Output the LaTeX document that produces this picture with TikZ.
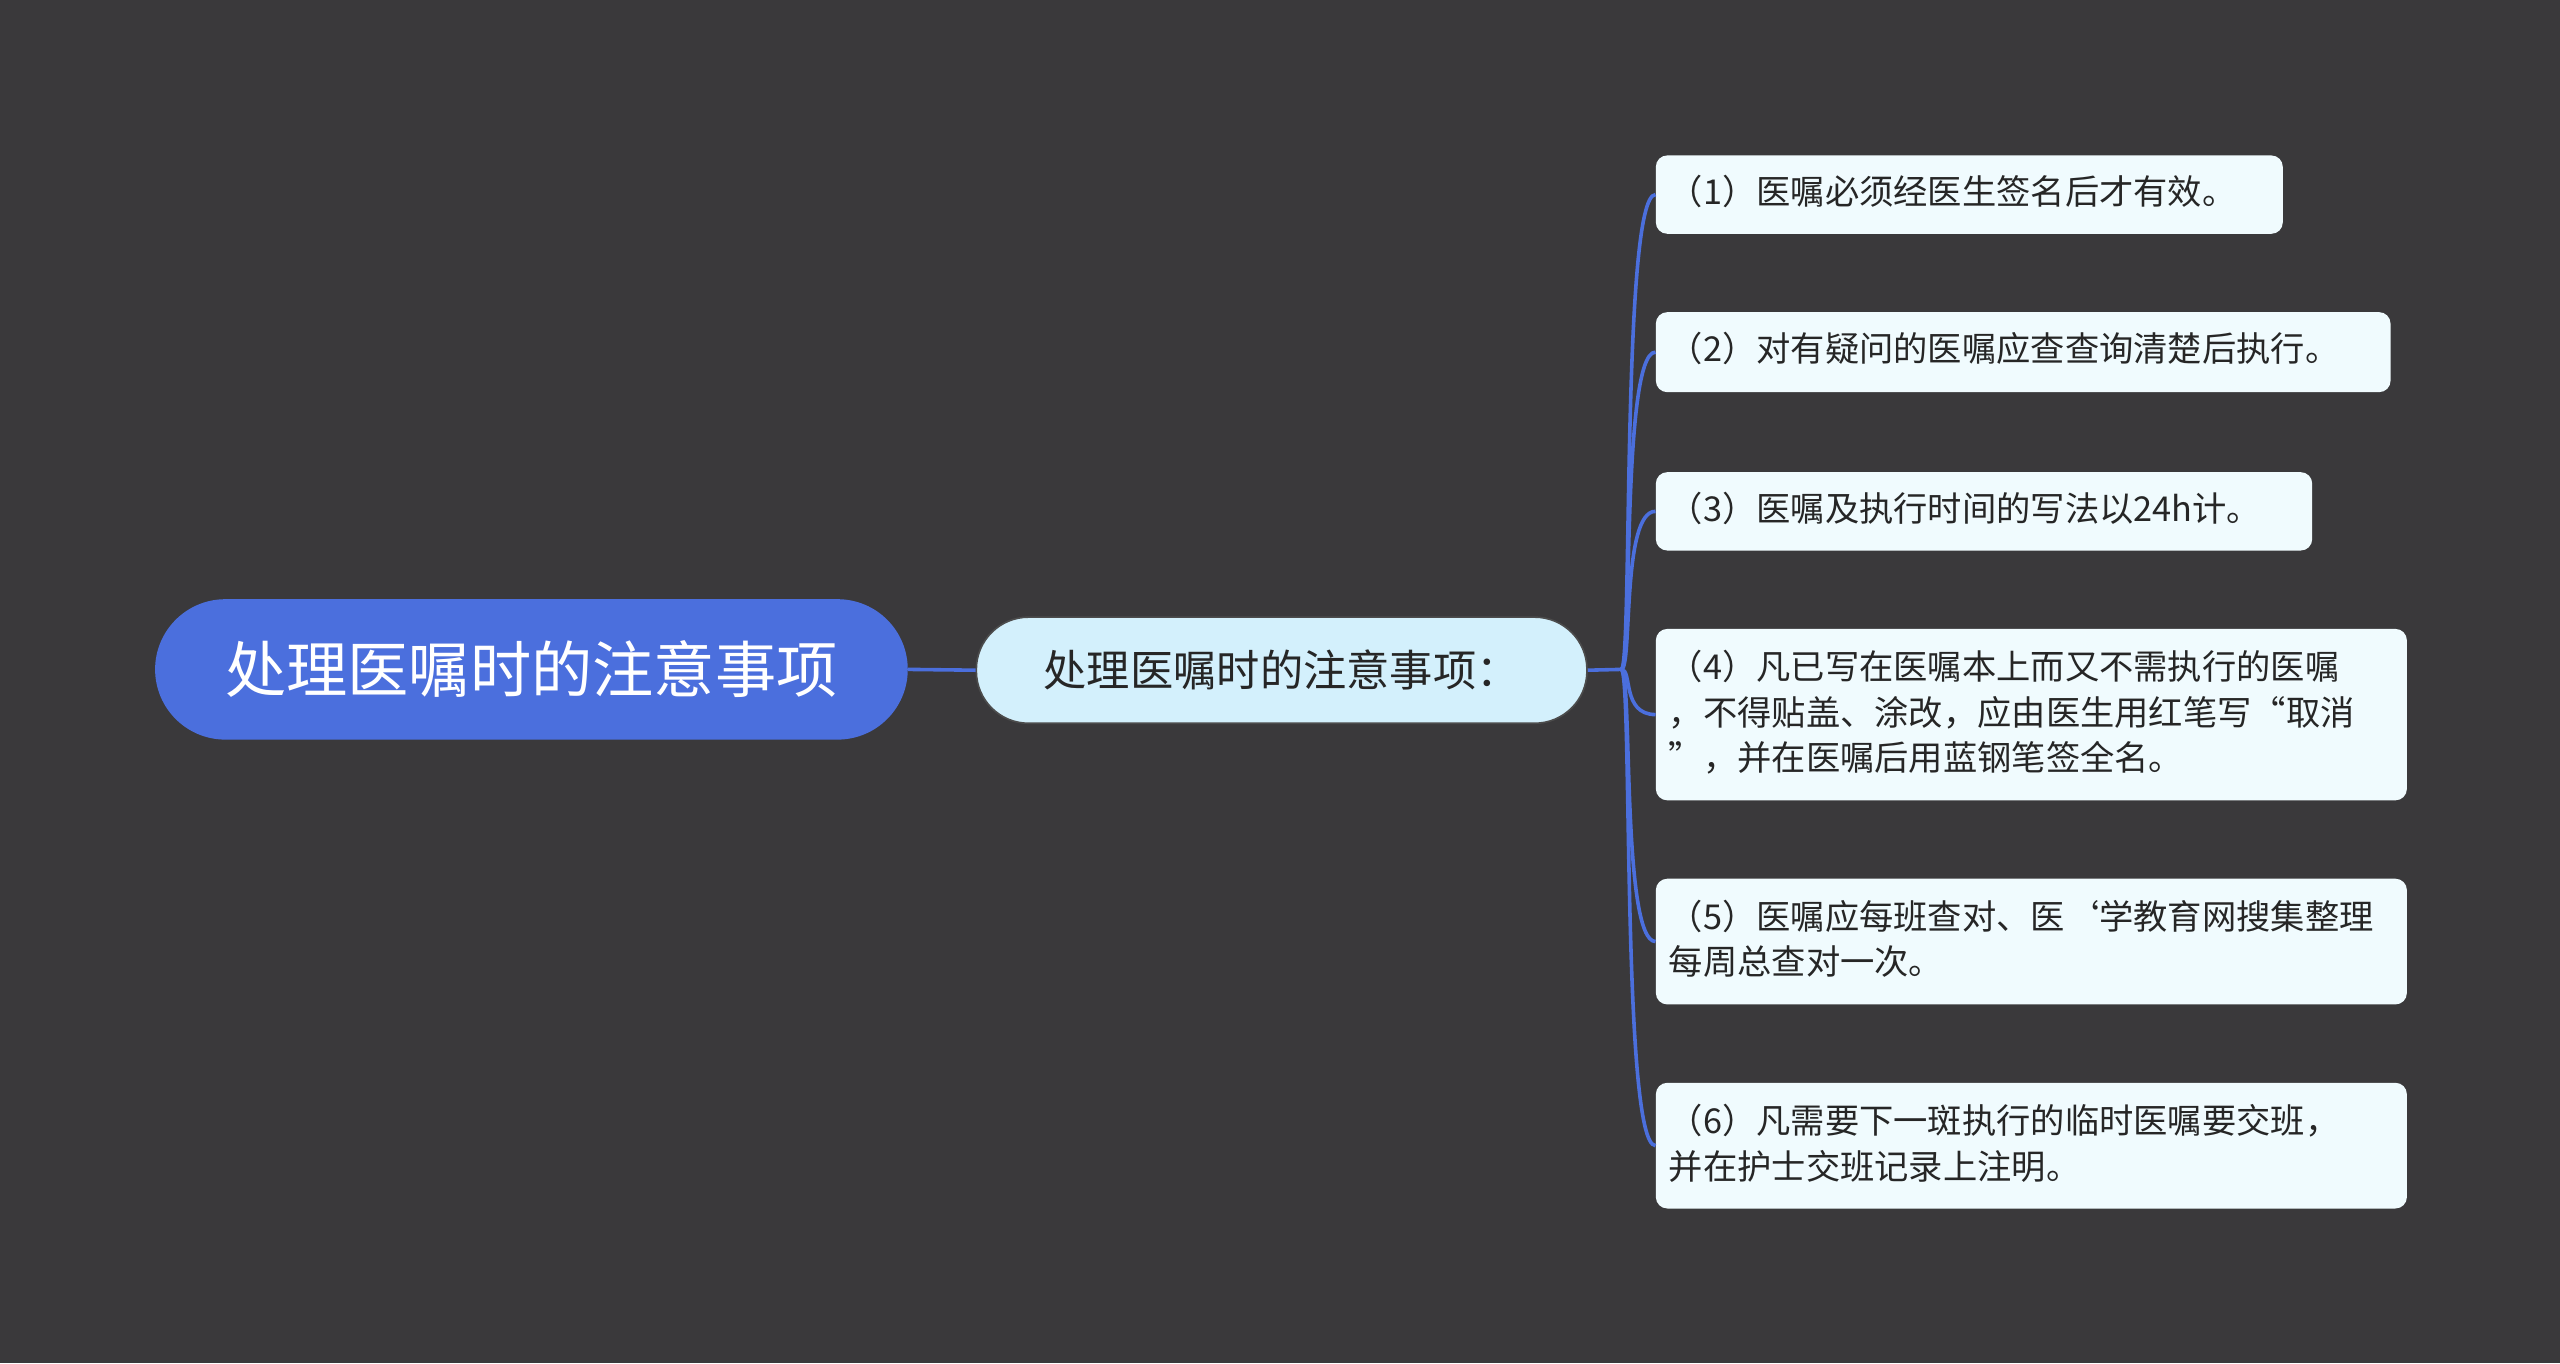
\documentclass[tikz,border=0pt]{standalone}
\usepackage{fontspec}
\setmainfont{Noto Sans CJK SC}
\begin{document}
\begin{tikzpicture}[x=1pt,y=-1pt,
 leaf/.style={draw=none,fill=leafc,rounded corners=7pt,anchor=north west,inner sep=0pt},
 ltext/.style={anchor=north west,align=left,font=\fontsize{21}{28}\selectfont,text=black!85,inner sep=0pt},
 conn/.style={draw=linec,line width=2.2pt}]
\definecolor{bg}{HTML}{3A393B}
\definecolor{rootc}{HTML}{4B6FDD}
\definecolor{midc}{HTML}{D3F0FC}
\definecolor{leafc}{HTML}{F0FBFE}
\definecolor{linec}{HTML}{4B6FDD}
\fill[bg] (0,0) rectangle (1568,835);
\useasboundingbox (0,0) rectangle (1568,835);
\node[fill=rootc,rounded corners=43pt,minimum width=461pt,minimum height=86pt,text=white,font=\fontsize{37.5}{40}\selectfont] (root) at (325.5,410) {处理医嘱时的注意事项};
\node[fill=midc,draw=black!70,line width=1pt,rounded corners=32pt,minimum width=374pt,minimum height=65pt,text=black!85,font=\fontsize{26.5}{30}\selectfont] (mid) at (785,410.5) {处理医嘱时的注意事项：};
\draw[conn] (root.east) -- (mid.west);
\coordinate (j) at (993,410);
\draw[conn] (mid.east) -- (j);
\node[leaf,minimum width=384pt,minimum height=48pt] (l1) at (1014,95) {};
\node[ltext] at (1022,107) {（1）医嘱必须经医生签名后才有效。};
\node[leaf,minimum width=450pt,minimum height=49pt] (l2) at (1014,191) {};
\node[ltext] at (1022,203.5) {（2）对有疑问的医嘱应查查询清楚后执行。};
\node[leaf,minimum width=402pt,minimum height=48pt] (l3) at (1014,289) {};
\node[ltext] at (1022,301) {（3）医嘱及执行时间的写法以24h计。};
\node[leaf,minimum width=460pt,minimum height=105pt] (l4) at (1014,385) {};
\node[ltext] at (1022,398) {（4）凡已写在医嘱本上而又不需执行的医嘱\\，不得贴盖、涂改，应由医生用红笔写“取消\\”，并在医嘱后用蓝钢笔签全名。};
\node[leaf,minimum width=460pt,minimum height=77pt] (l5) at (1014,538) {};
\node[ltext] at (1022,551) {（5）医嘱应每班查对、医`学教育网搜集整理\\每周总查对一次。};
\node[leaf,minimum width=460pt,minimum height=77pt] (l6) at (1014,663) {};
\node[ltext] at (1022,676) {（6）凡需要下一斑执行的临时医嘱要交班，\\并在护士交班记录上注明。};
\foreach \n/\y in {l1/119,l2/215.5,l3/313,l4/437.5,l5/576.5,l6/701.5}
 \draw[conn] (j) .. controls (1000,410) and (993,\y) .. (\n.west);
\end{tikzpicture}
\end{document}
